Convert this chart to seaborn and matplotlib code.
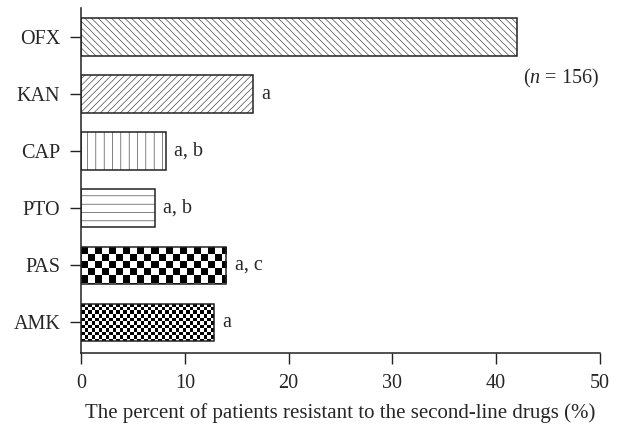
import numpy as np
import seaborn as sns
import matplotlib.pyplot as plt

drugs = ["OFX", "KAN", "CAP", "PTO", "PAS", "AMK"]
resistant_pct = [42.0, 16.6, 8.2, 7.1, 14.0, 12.8]
sig_labels = ["", "a", "a, b", "a, b", "a, c", "a"]
hatches = ["\\\\\\\\\\", "/////", "||", "--", None, None]
checker_cells = [None, None, None, None, (49, 74), (98, 148)]

sns.set_style("ticks")
plt.rcParams["font.family"] = ["Liberation Serif", "DejaVu Serif"]
plt.rcParams["mathtext.fontset"] = "custom"
plt.rcParams["mathtext.it"] = "Liberation Serif:italic"
plt.rcParams["mathtext.rm"] = "Liberation Serif"
plt.rcParams["hatch.linewidth"] = 0.4

fig = plt.figure(figsize=(6.19, 4.25), dpi=100)
ax = fig.add_axes([0.131, 0.169, 0.838, 0.812])

sns.barplot(x=resistant_pct, y=drugs, orient="h", color="white",
            saturation=1, edgecolor="#222222", linewidth=1.1, width=0.66, ax=ax)

bars = ax.containers[0]
for bar, h, cells in zip(bars, hatches, checker_cells):
    if h:
        bar.set_hatch(h)
    if cells:
        rows, cols = cells
        board = np.indices((rows, cols)).sum(axis=0) % 2
        bar.set_facecolor("none")
        im = ax.imshow(board, cmap="gray", extent=(0, 1, 0, 1),
                       transform=ax.transAxes, aspect="auto",
                       interpolation="nearest", zorder=0.5)
        im.set_clip_path(bar)

ax.bar_label(bars, labels=sig_labels, padding=6, fontsize=14.5)

ax.text(46.3, 0.72, "($n$ = 156)", ha="center", va="center", fontsize=14.5)

ax.set_xlim(0, 50)
ax.set_ylim(5.54, -0.51)
ax.set_xticks(range(0, 51, 10))
ax.set_xlabel("The percent of patients resistant to the second-line drugs (%)",
              fontsize=15, labelpad=7)
ax.set_ylabel("")
ax.tick_params(axis="both", labelsize=14.5, length=8, width=1, color="#222222",
               pad=7)
sns.despine(ax=ax)
for s in ["left", "bottom"]:
    ax.spines[s].set_color("#222222")
    ax.spines[s].set_linewidth(1.1)

fig.savefig("out.png", dpi=100)
